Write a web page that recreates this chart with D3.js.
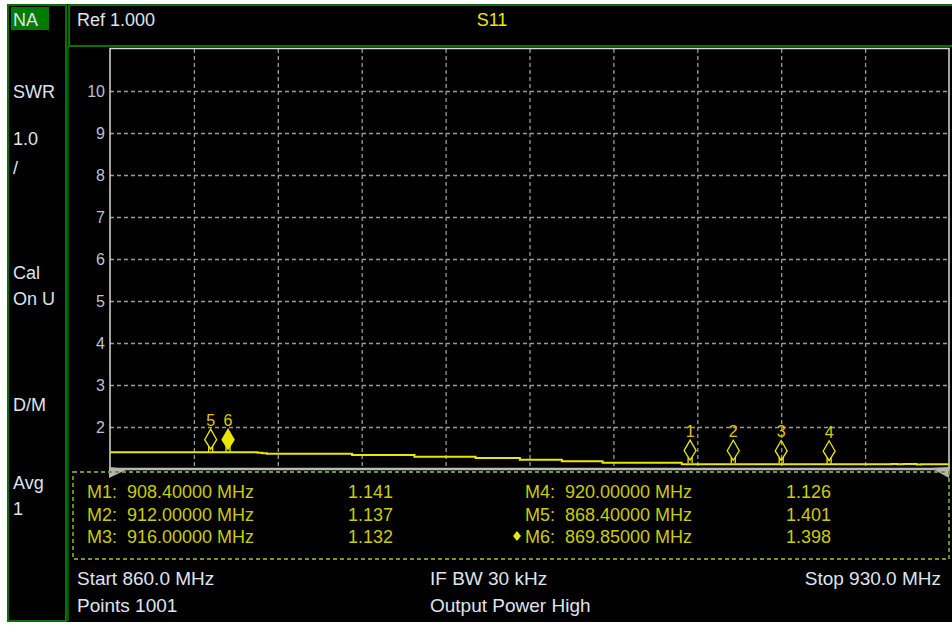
<!DOCTYPE html>
<html>
<head>
<meta charset="utf-8">
<script src="https://cdn.jsdelivr.net/npm/d3@7"></script>
<style>
  body { margin: 0; background: #fff; }
  svg { display: block; font-family: "Liberation Sans", Arial, sans-serif; }
</style>
</head>
<body>
<svg id="na" width="952" height="626"></svg>
<script>
// S11 SWR trace, 860 - 930 MHz
var traceFreq = [860, 872.3, 872.7, 873.1, 880.2, 885.4, 890.5, 894.2, 897.7, 901.1, 907.7, 925.2, 925.7, 926.2, 927.3, 927.7, 930];
var traceSwr  = [1.398, 1.386, 1.376, 1.364, 1.333, 1.293, 1.262, 1.221, 1.183, 1.150, 1.112, 1.119, 1.112, 1.119, 1.106, 1.112, 1.112];

var markerNames = ["M1", "M2", "M3", "M4", "M5", "M6"];
var markerFreq  = [908.4, 912.0, 916.0, 920.0, 868.4, 869.85];
var markerSwr   = [1.141, 1.137, 1.132, 1.126, 1.401, 1.398];
var activeMarker = "M6";

var freqTicks = [867, 874, 881, 888, 895, 902, 909, 916, 923];
var swrTicks  = [2, 3, 4, 5, 6, 7, 8, 9, 10];

var sideLabels = [["SWR", 98], ["1.0", 145], ["/", 174], ["Cal", 279], ["On U", 305], ["D/M", 411], ["Avg", 489], ["1", 515]];

var svg = d3.select("#na");
var green = "#0b6e0b", txt = "#dfe3ec", yel = "#e8e800", tbl = "#c9cc00";

// frame
svg.append("rect").attr("x", 7).attr("y", 4).attr("width", 945).attr("height", 618).attr("fill", "#000");
svg.append("rect").attr("x", 8).attr("y", 5).attr("width", 58).attr("height", 616)
    .attr("fill", "none").attr("stroke", green).attr("stroke-width", 2);
svg.append("rect").attr("x", 69).attr("y", 5).attr("width", 885).attr("height", 41)
    .attr("fill", "none").attr("stroke", green).attr("stroke-width", 2);
svg.append("line").attr("x1", 68).attr("x2", 68).attr("y1", 46).attr("y2", 621)
    .attr("stroke", green).attr("stroke-width", 1.5);

// NA badge
svg.append("rect").attr("x", 11).attr("y", 7).attr("width", 38).attr("height", 23).attr("fill", "#007a00");
svg.append("text").attr("x", 13).attr("y", 26).attr("font-size", 18).attr("fill", txt).text("NA");

svg.append("text").attr("x", 77).attr("y", 26).attr("font-size", 18).attr("fill", txt).text("Ref 1.000");
svg.append("text").attr("x", 492).attr("y", 26).attr("font-size", 18).attr("text-anchor", "middle")
    .attr("fill", yel).text("S11");

svg.selectAll(".side").data(sideLabels).enter().append("text")
    .attr("class", "side")
    .attr("x", 13).attr("y", function(d) { return d[1]; })
    .attr("font-size", 18).attr("fill", txt)
    .text(function(d) { return d[0]; });

// plot
var x = d3.scaleLinear().domain([860, 930]).range([110, 949]);
var y = d3.scaleLinear().domain([1, 11]).range([469, 49]);

var grid = svg.append("g").attr("class", "grid");
grid.append("g")
    .attr("transform", "translate(0,49)")
    .call(d3.axisBottom(x).tickValues(freqTicks).tickSize(420).tickFormat(""))
    .call(function(g) { g.select(".domain").remove(); });
grid.append("g")
    .attr("transform", "translate(110,0)")
    .call(d3.axisRight(y).tickValues(swrTicks).tickSize(839).tickFormat(""))
    .call(function(g) { g.select(".domain").remove(); });
grid.selectAll("line").attr("stroke", "#9a9a9a").attr("stroke-width", 1.3).attr("stroke-dasharray", "4,3");

var yAxis = svg.append("g")
    .attr("transform", "translate(110,0)")
    .call(d3.axisLeft(y).tickValues(swrTicks).tickSize(0).tickPadding(5));
yAxis.select(".domain").remove();
yAxis.selectAll("text").attr("fill", "#b9c2cf").attr("font-size", 16)
    .attr("font-family", "'Liberation Sans Narrow', 'Liberation Sans', Arial, sans-serif");

// plot border
svg.append("path")
    .attr("d", "M110,469V48.5H949V469")
    .attr("fill", "none").attr("stroke", "#d8d8d8").attr("stroke-width", 1.5);
svg.append("line").attr("x1", 110).attr("x2", 949).attr("y1", 469).attr("y2", 469)
    .attr("stroke", "#b8b8b8").attr("stroke-width", 2.5);

// trace
var line = d3.line()
    .x(function(d) { return x(d[0]); })
    .y(function(d) { return y(d[1]); })
    .curve(d3.curveStepAfter);
svg.append("path")
    .datum(d3.zip(traceFreq, traceSwr))
    .attr("d", line)
    .attr("fill", "none").attr("stroke", yel).attr("stroke-width", 2);

// markers
var markers = svg.selectAll(".marker")
    .data(markerNames)
  .enter().append("g")
    .attr("class", "marker")
    .attr("transform", function(d, i) { return "translate(" + x(markerFreq[i]) + "," + y(markerSwr[i]) + ")"; });
markers.append("path")
    .attr("d", "M0,-23L6,-12.5L0,-3L-6,-12.5Z")
    .attr("fill", function(d) { return d == activeMarker ? yel : "none"; })
    .attr("stroke", yel).attr("stroke-width", 1.3);
markers.append("path")
    .attr("d", "M-2,-6V0M2,-6V0")
    .attr("stroke", yel).attr("stroke-width", 1.3);
markers.append("text")
    .attr("y", -26).attr("text-anchor", "middle").attr("font-size", 16)
    .attr("fill", "#e0c800")
    .text(function(d) { return d.slice(1); });

// reference level triangles
svg.append("path").attr("d", "M109,467L128,469L109,478Z").attr("fill", "#b5b5b5");
svg.append("path").attr("d", "M931,468L950,467L949,478Z").attr("fill", "#b5b5b5");

// marker table
svg.append("rect").attr("x", 73).attr("y", 472).attr("width", 876).attr("height", 87)
    .attr("fill", "none").attr("stroke", "#78962a").attr("stroke-width", 1.8).attr("stroke-dasharray", "4,3");

var rows = svg.selectAll(".mrow")
    .data(markerNames)
  .enter().append("g")
    .attr("class", "mrow")
    .attr("transform", function(d, i) {
      return "translate(" + (i < 3 ? 87 : 525) + "," + (498 + (i % 3) * 22.5) + ")";
    })
    .attr("font-size", 18).attr("fill", tbl);
rows.append("text").text(function(d) { return d + ":"; });
rows.append("text").attr("x", 40)
    .text(function(d, i) { return markerFreq[i].toFixed(5) + " MHz"; });
rows.append("text").attr("x", 261)
    .text(function(d, i) { return markerSwr[i].toFixed(3); });
rows.filter(function(d) { return d == activeMarker; }).append("path")
    .attr("d", "M-8,-12L-4,-7L-8,-2L-12,-7Z").attr("fill", yel);

// footer
var footer = [["Start 860.0 MHz", 77, 585, "start"], ["Points 1001", 77, 612, "start"],
              ["IF BW 30 kHz", 430, 585, "start"], ["Output Power High", 430, 612, "start"],
              ["Stop 930.0 MHz", 941, 585, "end"]];
svg.selectAll(".foot").data(footer).enter().append("text")
    .attr("class", "foot")
    .attr("x", function(d) { return d[1]; })
    .attr("y", function(d) { return d[2]; })
    .attr("text-anchor", function(d) { return d[3]; })
    .attr("font-size", 19).attr("fill", txt)
    .text(function(d) { return d[0]; });
</script>
</body>
</html>
